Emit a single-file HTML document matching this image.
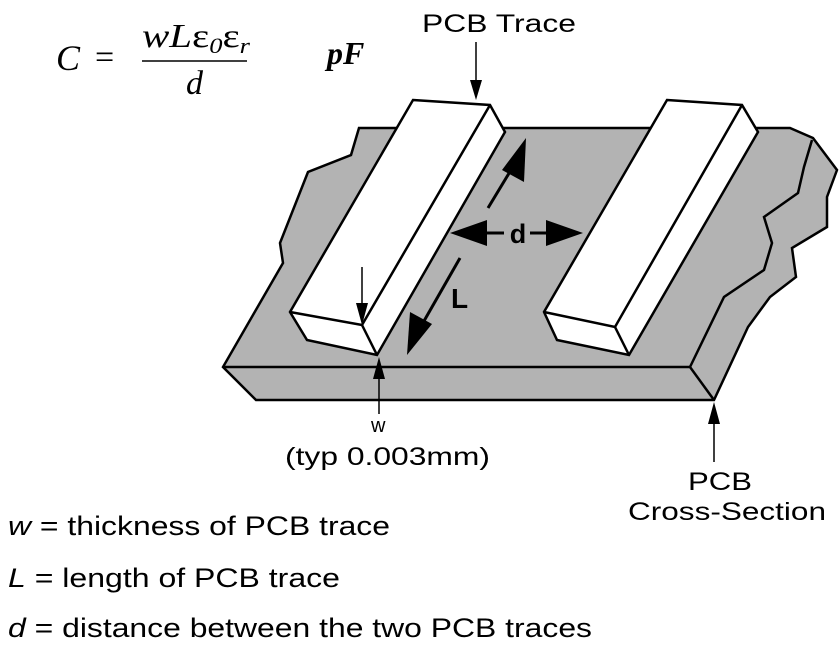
<!DOCTYPE html>
<html><head><style>html,body{margin:0;padding:0;background:#fff}svg{display:block}</style></head>
<body>
<svg width="840" height="654" viewBox="0 0 840 654" xmlns="http://www.w3.org/2000/svg">
<g stroke="#000" stroke-width="2.5" stroke-linejoin="miter">
<polygon fill="#b3b3b3" points="359,128 351,155 308,172 280,243 283,263 223,367 256,400 714,400 748,327 770,297 796,277 792,248 827,227 827,197 837,170 813,138 790,128"/>
<polyline fill="none" points="223,367 690,367 714,400"/>
<polyline fill="none" points="690,367 724,297 764,270 772,243 764,217 798,193 804,167 812,140"/>
<polygon fill="#fff" points="413,100 490,105 505,132 377,355 307,340 290,312"/>
<polyline fill="none" points="490,105 362,325 290,312"/>
<line x1="362" y1="325" x2="377" y2="355"/>
<polygon fill="#fff" points="667,100 742,105 758,132 629,355 557,340 544,312"/>
<polyline fill="none" points="742,105 615,327 544,312"/>
<line x1="615" y1="327" x2="629" y2="355"/>
</g>
<g stroke="#000" fill="#000">
<line x1="488" y1="208" x2="514" y2="165" stroke-width="3"/>
<polygon points="526,138 524,182 502,170" stroke="none"/>
<line x1="460" y1="258" x2="420" y2="328" stroke-width="3"/>
<polygon points="407,355 410,312 432,324" stroke="none"/>
<line x1="480" y1="233" x2="504" y2="233" stroke-width="3"/>
<polygon points="450,233 487,220 487,246" stroke="none"/>
<line x1="530" y1="233" x2="552" y2="233" stroke-width="3"/>
<polygon points="583,233 546,220 546,246" stroke="none"/>
<line x1="362" y1="267" x2="362" y2="310" stroke-width="1.5"/>
<polygon points="362,325 356,303 368,303" stroke="none"/>
<line x1="379" y1="370" x2="379" y2="414" stroke-width="1.5"/>
<polygon points="379,357 373,379 385,379" stroke="none"/>
<line x1="476" y1="42" x2="476" y2="85" stroke-width="1.5"/>
<polygon points="476,100 470,80 482,80" stroke="none"/>
<line x1="714" y1="415" x2="714" y2="462" stroke-width="1.5"/>
<polygon points="714,402 708,424 720,424" stroke="none"/>
<line x1="142" y1="61" x2="247" y2="61" stroke-width="1.5"/>
</g>
<g font-family="Liberation Sans, Arial, sans-serif" fill="#000">
<text x="518" y="243" font-size="27" font-weight="bold" text-anchor="middle">d</text>
<text x="451" y="308" font-size="28" font-weight="bold">L</text>
<text x="422" y="32" font-size="25" textLength="154" lengthAdjust="spacingAndGlyphs">PCB Trace</text>
<text x="371" y="432" font-size="20">w</text>
<text x="285" y="465" font-size="25" textLength="205" lengthAdjust="spacingAndGlyphs">(typ 0.003mm)</text>
<text x="688" y="490" font-size="25" textLength="64" lengthAdjust="spacingAndGlyphs">PCB</text>
<text x="628" y="520" font-size="25" textLength="198" lengthAdjust="spacingAndGlyphs">Cross-Section</text>
<text x="8" y="535" font-size="27" textLength="382" lengthAdjust="spacingAndGlyphs"><tspan font-style="italic">w</tspan> = thickness of PCB trace</text>
<text x="8" y="587" font-size="27" textLength="332" lengthAdjust="spacingAndGlyphs"><tspan font-style="italic">L</tspan> = length of PCB trace</text>
<text x="8" y="637" font-size="27" textLength="584" lengthAdjust="spacingAndGlyphs"><tspan font-style="italic">d</tspan> = distance between the two PCB traces</text>
</g>
<g font-family="Liberation Serif, Times New Roman, serif" fill="#000" font-style="italic">
<text x="56" y="70" font-size="36">C</text>
<text x="95" y="68" font-size="34" font-style="normal">=</text>
<text x="142" y="47" font-size="34" textLength="108" lengthAdjust="spacingAndGlyphs">wL<tspan font-style="normal">ε</tspan><tspan font-size="22" dy="6">0</tspan><tspan font-style="normal" dy="-6">ε</tspan><tspan font-size="22" dy="6">r</tspan></text>
<text x="186" y="94" font-size="34">d</text>
<text x="327" y="64" font-size="32" font-weight="bold">pF</text>
</g>
</svg>
</body></html>
